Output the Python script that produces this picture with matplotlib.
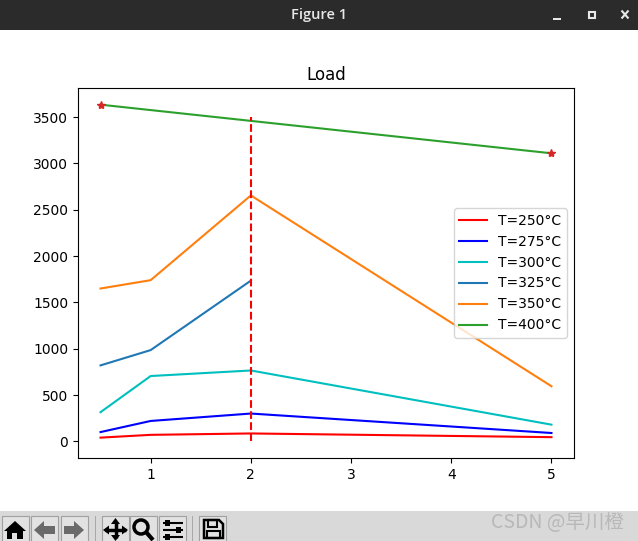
import matplotlib
matplotlib.use("Agg")
import matplotlib.pyplot as plt
from matplotlib.patches import Rectangle, Polygon, Circle

W, H = 638, 541
x_all = [0.5, 1, 2, 5]
t250 = [40, 70, 85, 45]
t275 = [100, 220, 300, 90]
t300 = [315, 705, 765, 180]
x_325 = [0.5, 1, 2]
t325 = [820, 985, 1735]
t350 = [1650, 1740, 2655, 595]
x_400 = [0.5, 2, 5]
t400 = [3635, 3460, 3110]
x_star = [0.5, 5]
y_star = [3635, 3110]
vline_x = [2, 2]
vline_y = [0, 3500]
title = "Load"

fig = plt.figure(figsize=(W / 100, H / 100), dpi=100, facecolor="white")
ax = fig.add_axes([78 / W, (H - 458) / H, (574 - 78) / W, (458 - 88) / H])
ax.plot(x_all, t250, "r", label="T=250°C")
ax.plot(x_all, t275, "b", label="T=275°C")
ax.plot(x_all, t300, "c", label="T=300°C")
ax.plot(x_325, t325, color="tab:blue", label="T=325°C")
ax.plot(x_all, t350, color="tab:orange", label="T=350°C")
ax.plot(x_400, t400, color="tab:green", label="T=400°C")
ax.plot(x_star, y_star, "*", color="tab:red", markersize=6)
ax.plot(vline_x, vline_y, "r--")
ax.set_title(title)
ax.legend(loc="center right")
ax.set_xlim(0.275, 5.225)
ax.set_ylim(-180, 3815)

# window chrome drawn in a pixel-coordinate overlay
ui = fig.add_axes([0, 0, 1, 1], zorder=5)
ui.set_xlim(0, W)
ui.set_ylim(H, 0)
ui.axis("off")
ui.patch.set_alpha(0)

def rect(x, y, w, h, fc, ec="none", lw=0):
    ui.add_patch(Rectangle((x, y), w, h, facecolor=fc, edgecolor=ec, linewidth=lw))

def seg(xs, ys, c="black", lw=2):
    ui.plot(xs, ys, color=c, linewidth=lw, solid_capstyle="butt")

# title bar
rect(0, 0, W, 30, "#2b2b2b")
ui.text(319, 15, "Figure 1", color="#e8e8e8", fontsize=10.5, family="Open Sans",
        weight="semibold", ha="center", va="center")
rect(553, 18, 8, 2, "#e8e8e8")
rect(588.5, 11.5, 6, 6, "none", "#e8e8e8", 1.5)
seg([621.5, 628.5], [10.5, 18.5], "#e8e8e8", 1.5)
seg([621.5, 628.5], [18.5, 10.5], "#e8e8e8", 1.5)

# toolbar
rect(0, 511, W, 30, "#d9d9d9")
for bx in (2, 26, 51, 84, 107, 130, 164):
    pass
for bx in (2, 31, 61, 102, 130, 159, 199):
    rect(bx, 516, 27, 26, "#e2e2e2", "#a0a0a0", 0.8)
for sx in (95, 192):
    rect(sx, 516, 1, 25, "#a8a8a8")

# home
ui.add_patch(Polygon([[15, 521], [4, 531], [7, 531], [7, 539], [12, 539], [12, 533], [17, 533],
                      [17, 539], [23, 539], [23, 531], [26, 531]], facecolor="black"))
# back and forward
ui.add_patch(Polygon([[44, 521], [34, 530], [44, 539], [44, 534], [55, 534], [55, 526], [44, 526]],
                     facecolor="#6a6a6a"))
ui.add_patch(Polygon([[74, 521], [84, 530], [74, 539], [74, 534], [64, 534], [64, 526], [74, 526]],
                     facecolor="#6a6a6a"))
# pan
seg([115.5, 115.5], [522, 538], "black", 2.5)
seg([105, 126], [530, 530], "black", 2.5)
for pts in ([[115.5, 518], [111, 524], [120, 524]], [[115.5, 541], [111, 535], [120, 535]],
            [[103, 530], [109, 525.5], [109, 534.5]], [[128, 530], [122, 525.5], [122, 534.5]]):
    ui.add_patch(Polygon(pts, facecolor="black"))
# zoom
ui.add_patch(Circle((141, 527), 7, facecolor="none", edgecolor="black", linewidth=2.5))
seg([146, 153], [532, 540], "black", 3)
# sliders
for yy, kx in ((522, 167), (529, 178), (536, 167)):
    seg([163, 183], [yy + 0.5, yy + 0.5], "black", 1.5)
    rect(kx - 2.5, yy - 2.5, 5, 6, "black")
# save
ui.add_patch(Polygon([[204, 520], [219, 520], [223, 524], [223, 538], [204, 538]],
                     facecolor="none", edgecolor="black", linewidth=1.8))
rect(208, 520, 9, 7, "none", "black", 1.5)
rect(207, 531, 13, 7, "none", "black", 1.5)

ui.text(557, 523, "CSDN @早川橙", color="#b8b8b8", fontsize=14, ha="center", va="center",
        family=["Noto Sans CJK SC", "DejaVu Sans"])

fig.savefig("out.png", dpi=100, facecolor="white")
